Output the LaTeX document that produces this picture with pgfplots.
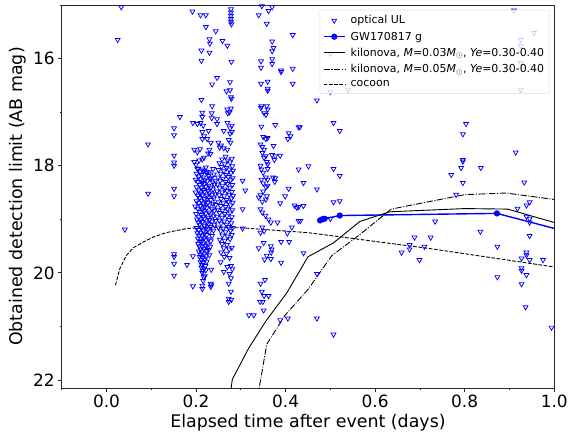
\documentclass[border=0pt]{standalone}
\usepackage{pgfplots}
\pgfplotsset{compat=1.18}
\usepackage{fontspec}
\setmainfont{DejaVu Sans}
\definecolor{ulblue}{RGB}{0,0,255}
\definecolor{spine}{RGB}{40,40,40}

\begin{document}
\begin{tikzpicture}
\begin{axis}[
    scale only axis, width=495pt, height=385pt,
    xmin=-0.1, xmax=1.0, ymin=15, ymax=22.15, y dir=reverse,
    xtick={0,0.2,0.4,0.6,0.8,1.0}, minor xtick={-0.1,0.1,0.3,0.5,0.7,0.9},
    ytick={16,18,20,22}, minor ytick={15,17,19,21},
    xticklabel style={/pgf/number format/.cd,fixed,fixed zerofill,precision=1},
    /pgf/number format/assume math mode=true,
    tick pos=left, tick align=outside,
    major tick length=3.5pt, minor tick length=2pt,
    every tick/.style={spine, line width=0.8pt},
    axis line style={spine, line width=0.8pt},
    ticklabel style={font=\fontsize{17}{20}\selectfont},
    label style={font=\fontsize{17.5}{21}\selectfont},
    xlabel={Elapsed time after event (days)},
    ylabel={Obtained detection limit (AB mag)},
    legend cell align=left,
    legend image code/.code={\draw[mark repeat=2,mark phase=2] plot coordinates {(0cm,0cm) (0.38cm,0cm) (0.76cm,0cm)};},
    legend style={at={(0.99,0.987)}, anchor=north east, font=\fontsize{11}{13}\selectfont,
        draw=black!15, fill=white, fill opacity=0.8, text opacity=1, rounded corners=2pt,
        row sep=2.5pt, column sep=3pt, inner xsep=3pt, inner ysep=3.5pt},
]
% optical upper limits
\addplot[only marks, mark=triangle, mark size=2.8pt, color=ulblue, mark options={rotate=180, line width=0.75pt}] coordinates {
(0.033,15.04)(0.025,15.65)(0.041,19.19)(0.093,17.60)(0.093,18.52)
(0.151,17.30)(0.151,17.43)(0.151,17.81)(0.151,17.94)(0.151,18.00)(0.151,18.43)(0.151,18.57)
(0.151,19.65)(0.151,19.70)(0.151,19.83)(0.151,20.05)
(0.164,17.09)(0.180,19.85)(0.193,19.69)(0.193,20.25)(0.192,15.12)(0.193,17.20)
(0.210,15.19)(0.222,15.19)(0.278,15.08)(0.278,15.14)(0.278,15.20)(0.278,15.26)(0.278,15.31)(0.279,15.36)
(0.347,15.02)(0.370,15.04)(0.362,15.11)(0.340,15.19)(0.358,15.35)(0.222,15.41)(0.244,15.49)
(0.230,15.64)(0.231,15.72)(0.259,15.67)(0.270,15.76)(0.416,15.56)(0.370,15.68)(0.373,15.80)
(0.370,15.86)(0.212,15.85)(0.230,15.89)(0.212,16.04)(0.279,16.06)(0.345,16.05)(0.345,16.17)
(0.370,16.01)(0.370,16.10)(0.390,16.22)(0.390,16.25)(0.416,16.19)(0.247,16.36)(0.236,16.48)
(0.276,16.44)(0.268,16.61)(0.276,16.59)(0.278,16.72)(0.279,16.75)(0.345,16.47)(0.360,16.43)
(0.360,16.56)(0.360,16.60)(0.416,16.47)(0.212,16.77)(0.236,16.89)(0.214,17.01)
(0.270,16.95)(0.275,17.00)(0.278,16.93)(0.271,17.02)
(0.346,16.89)(0.358,16.89)(0.345,16.92)(0.360,16.95)(0.352,17.02)(0.356,17.05)
(0.214,17.09)(0.203,17.22)(0.210,17.20)(0.216,17.25)(0.235,17.02)(0.235,17.11)(0.247,17.13)
(0.247,17.22)(0.270,17.20)(0.276,17.30)(0.280,17.25)(0.262,17.35)(0.276,17.40)(0.280,17.37)
(0.214,17.37)(0.218,17.45)(0.228,17.35)(0.225,17.50)(0.214,17.50)(0.233,17.57)
(0.196,17.70)(0.203,17.75)(0.209,17.69)(0.230,17.70)(0.232,17.78)(0.227,17.77)
(0.250,17.57)(0.256,17.62)(0.253,17.66)(0.262,17.67)(0.270,17.70)(0.266,17.83)(0.273,17.52)(0.277,17.57)
(0.196,17.93)(0.200,17.98)(0.207,17.90)(0.203,18.06)(0.214,17.88)(0.218,17.85)(0.224,18.11)
(0.470,16.78)(0.507,17.20)(0.521,17.35)(0.429,17.28)(0.432,17.28)(0.803,17.22)(0.796,17.41)
(0.914,17.75)(0.796,17.89)(0.796,17.92)(0.792,18.04)(0.836,18.04)(0.770,18.17)(0.796,18.32)
(0.933,18.31)(0.781,18.54)(0.451,18.01)(0.429,18.07)(0.507,18.06)(0.521,18.19)(0.440,18.32)
(0.470,18.44)(0.507,18.68)(0.521,18.66)(0.429,18.77)(0.440,18.75)(0.429,19.03)(0.500,18.99)
(0.734,19.04)(0.918,18.80)(0.938,18.74)(0.945,18.68)(0.938,18.95)(0.945,18.99)(0.945,19.06)
(0.688,19.34)(0.724,19.34)(0.677,19.48)(0.677,19.56)(0.710,19.51)(0.659,19.62)(0.699,19.76)
(0.835,19.23)(0.873,19.51)(0.945,19.31)(0.938,19.62)(0.938,19.67)(0.927,19.73)(0.945,19.76)
(0.975,19.76)(0.927,19.91)(0.927,19.96)(0.938,20.04)(0.873,20.08)(0.927,20.21)(0.470,20.02)
(0.440,19.63)(0.936,20.64)(0.994,21.02)
(0.910,15.10)(0.955,15.52)(0.925,15.65)(0.925,15.76)(0.500,15.91)(0.925,16.08)(0.500,16.62)
(0.540,16.59)(0.925,16.59)
(0.346,17.27)(0.377,17.24)(0.350,17.46)(0.356,17.50)(0.360,17.48)(0.344,17.60)(0.348,17.65)
(0.352,17.70)(0.373,17.63)(0.348,17.76)(0.356,17.82)(0.352,17.85)(0.370,17.80)(0.377,17.82)
(0.388,17.81)(0.375,17.89)(0.358,17.93)(0.360,17.97)(0.344,18.00)(0.346,18.07)(0.350,18.13)
(0.360,18.06)(0.356,18.22)(0.360,18.26)(0.372,18.22)(0.377,18.23)(0.376,18.30)(0.346,18.26)
(0.350,18.33)(0.356,18.40)(0.360,18.37)(0.350,18.48)(0.358,18.57)(0.344,18.55)
(0.407,17.39)(0.411,17.45)(0.405,17.50)(0.304,18.28)(0.310,18.46)(0.407,18.43)(0.399,18.57)
(0.388,18.70)(0.420,18.74)(0.425,18.78)(0.433,19.03)(0.414,19.15)(0.404,19.26)(0.382,19.06)
(0.390,19.42)(0.408,19.42)(0.340,19.54)(0.351,19.44)(0.367,19.50)(0.369,19.56)(0.368,19.62)
(0.358,19.68)(0.353,19.75)(0.367,19.74)(0.390,19.81)(0.344,19.25)(0.348,19.15)(0.352,19.22)
(0.344,18.81)(0.348,18.87)(0.355,18.93)(0.362,19.00)(0.367,19.06)(0.340,18.59)(0.348,18.67)
(0.356,18.63)(0.304,18.81)(0.304,19.17)
(0.344,20.20)(0.354,20.13)(0.347,20.35)(0.352,20.43)(0.362,20.43)(0.343,20.54)(0.349,20.54)
(0.351,20.70)(0.318,20.79)(0.329,20.79)(0.388,20.88)(0.405,20.85)(0.470,20.85)(0.507,21.15)
(0.255,19.80)(0.270,19.89)(0.262,19.98)(0.278,19.87)(0.281,19.93)(0.275,20.02)(0.278,20.10)
(0.273,20.20)(0.278,20.35)(0.273,20.48)(0.273,20.54)(0.279,20.50)
(0.234,19.94)(0.234,20.23)(0.233,20.20)(0.233,20.26)(0.214,20.24)(0.214,20.30)
(0.205,18.05)(0.214,18.07)(0.222,18.03)(0.238,18.06)
(0.209,18.11)(0.218,18.09)(0.229,18.12)
(0.201,18.15)(0.212,18.17)(0.224,18.14)(0.240,18.16)
(0.206,18.20)(0.216,18.22)(0.228,18.19)(0.234,18.23)
(0.199,18.26)(0.210,18.25)(0.220,18.27)(0.231,18.24)(0.243,18.28)
(0.204,18.30)(0.214,18.32)(0.225,18.29)(0.237,18.31)
(0.208,18.36)(0.218,18.34)(0.228,18.37)(0.241,18.35)
(0.201,18.40)(0.212,18.42)(0.222,18.39)(0.233,18.41)
(0.206,18.46)(0.216,18.45)(0.226,18.47)(0.238,18.44)
(0.199,18.50)(0.210,18.52)(0.219,18.49)(0.230,18.51)(0.243,18.53)
(0.204,18.56)(0.214,18.55)(0.224,18.57)(0.236,18.54)
(0.208,18.60)(0.218,18.62)(0.228,18.59)(0.240,18.61)
(0.201,18.66)(0.212,18.65)(0.221,18.67)(0.233,18.64)
(0.206,18.70)(0.216,18.72)(0.226,18.69)(0.238,18.71)(0.244,18.73)
(0.198,18.76)(0.210,18.75)(0.219,18.77)(0.230,18.74)
(0.204,18.80)(0.214,18.82)(0.224,18.79)(0.236,18.81)
(0.208,18.86)(0.218,18.85)(0.229,18.87)(0.241,18.84)
(0.200,18.90)(0.212,18.92)(0.222,18.89)(0.233,18.91)
(0.206,18.96)(0.216,18.95)(0.226,18.97)(0.239,18.94)
(0.202,19.00)(0.210,19.02)(0.219,18.99)(0.230,19.01)(0.244,19.03)
(0.205,19.06)(0.214,19.05)(0.224,19.07)(0.236,19.04)
(0.208,19.10)(0.218,19.12)(0.228,19.09)(0.241,19.11)
(0.201,19.16)(0.212,19.15)(0.222,19.17)(0.233,19.14)
(0.206,19.20)(0.216,19.22)(0.226,19.19)(0.239,19.21)
(0.203,19.26)(0.210,19.25)(0.219,19.27)(0.230,19.24)
(0.207,19.30)(0.214,19.32)(0.224,19.29)(0.236,19.31)
(0.204,19.36)(0.218,19.35)(0.228,19.37)
(0.209,19.40)(0.212,19.42)(0.222,19.39)(0.233,19.41)
(0.205,19.46)(0.216,19.45)(0.226,19.47)
(0.207,19.50)(0.214,19.52)(0.221,19.49)(0.232,19.51)
(0.210,19.56)(0.218,19.55)(0.228,19.57)
(0.206,19.60)(0.213,19.62)(0.224,19.59)
(0.210,19.66)(0.218,19.65)(0.230,19.67)
(0.208,19.70)(0.215,19.72)(0.222,19.69)
(0.212,19.76)(0.220,19.75)
(0.210,19.80)(0.216,19.82)(0.224,19.79)
(0.213,19.85)(0.221,19.87)(0.212,19.90)(0.218,19.92)(0.215,19.96)(0.222,19.95)
(0.214,20.00)(0.217,20.08)(0.220,20.06)(0.216,20.15)
(0.258,17.88)(0.270,17.90)(0.280,17.87)
(0.252,17.95)(0.264,17.97)(0.276,17.94)
(0.257,18.02)(0.268,18.04)(0.281,18.01)
(0.250,18.08)(0.262,18.10)(0.274,18.07)(0.283,18.09)
(0.255,18.15)(0.267,18.17)(0.278,18.14)
(0.249,18.22)(0.260,18.24)(0.272,18.21)(0.282,18.23)
(0.254,18.28)(0.266,18.30)(0.277,18.27)
(0.248,18.35)(0.259,18.37)(0.270,18.34)(0.281,18.36)
(0.253,18.42)(0.264,18.44)(0.276,18.41)
(0.247,18.48)(0.258,18.50)(0.269,18.47)(0.280,18.49)
(0.252,18.55)(0.263,18.57)(0.274,18.54)(0.283,18.56)
(0.256,18.62)(0.268,18.64)(0.279,18.61)
(0.250,18.68)(0.261,18.70)(0.272,18.67)(0.282,18.69)
(0.255,18.75)(0.266,18.77)(0.277,18.74)
(0.248,18.82)(0.259,18.84)(0.270,18.81)(0.281,18.83)
(0.253,18.88)(0.264,18.90)(0.276,18.87)
(0.247,18.95)(0.258,18.97)(0.269,18.94)(0.280,18.96)
(0.252,19.02)(0.263,19.04)(0.274,19.01)
(0.256,19.08)(0.268,19.10)(0.279,19.07)
(0.250,19.15)(0.261,19.17)(0.272,19.14)(0.282,19.16)
(0.255,19.22)(0.266,19.24)(0.277,19.21)
(0.259,19.30)(0.270,19.32)(0.280,19.29)
(0.253,19.38)(0.264,19.40)(0.276,19.37)
(0.258,19.46)(0.269,19.48)
(0.262,19.54)(0.274,19.56)(0.280,19.53)
(0.256,19.62)(0.268,19.64)(0.263,19.70)(0.275,19.72)
};
\addlegendentry{optical UL}
% GW170817 g
\addplot[color=ulblue, line width=1.4pt, mark=*, mark size=2.4pt] coordinates {
(0.477,19.02)(0.482,19.00)(0.487,18.99)(0.521,18.93)(0.872,18.89)(1.05,19.28)
};
\addlegendentry{GW170817 g}
% kilonova M=0.03
\addplot[black, line width=0.9pt] coordinates {
(0.276,22.30)(0.281,21.99)(0.318,21.40)(0.356,20.90)(0.403,20.37)(0.450,19.70)
(0.507,19.44)(0.566,19.04)(0.633,18.86)(0.800,18.80)(0.896,18.81)(1.0,19.06)
};
\addlegendentry{kilonova, \textit{M}=0.03\textit{M}$_\odot$, \textit{Ye}=0.30-0.40}
% kilonova M=0.05
\addplot[black, line width=0.9pt, dash pattern=on 6.4pt off 1.6pt on 1pt off 1.6pt] coordinates {
(0.338,22.30)(0.358,21.33)(0.399,20.79)(0.451,20.30)(0.503,19.68)
(0.562,19.31)(0.636,18.81)(0.800,18.54)(0.892,18.51)(1.0,18.63)
};
\addlegendentry{kilonova, \textit{M}=0.05\textit{M}$_\odot$, \textit{Ye}=0.30-0.40}
% cocoon
\addplot[black, line width=0.9pt, dash pattern=on 3.7pt off 1.6pt] coordinates {
(0.020,20.23)(0.030,19.92)(0.044,19.68)(0.060,19.53)(0.081,19.43)(0.105,19.33)(0.133,19.25)
(0.181,19.17)(0.240,19.15)(0.303,19.16)(0.451,19.25)(0.725,19.55)(1.0,19.89)
};
\addlegendentry{cocoon}
\end{axis}
\path (current axis.south west) ++(-62pt,-47pt) rectangle ++(571pt,437pt);
\end{tikzpicture}
\end{document}
